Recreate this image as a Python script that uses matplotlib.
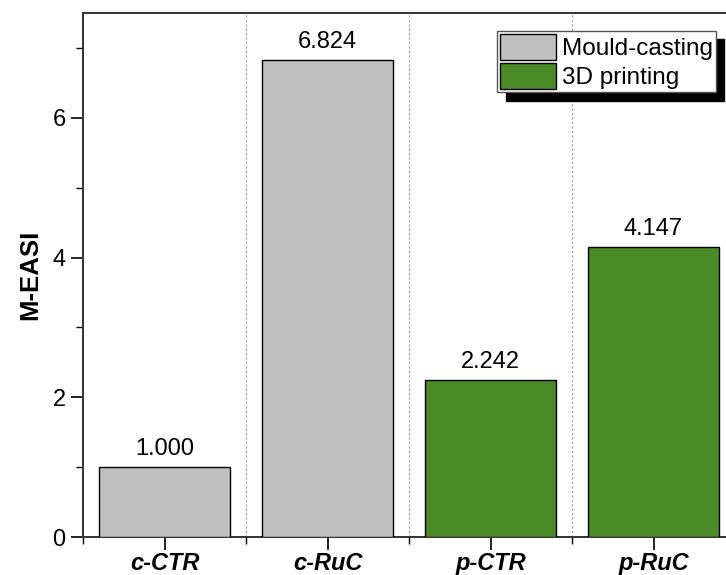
import matplotlib
matplotlib.use("Agg")
import matplotlib.pyplot as plt
from matplotlib.ticker import MultipleLocator, FixedLocator

plt.rcParams['font.family'] = ['Liberation Sans', 'DejaVu Sans']

categories = ['c-CTR', 'c-RuC', 'p-CTR', 'p-RuC']
values = [1.000, 6.824, 2.242, 4.147]
groups = ['Mould-casting', 'Mould-casting', '3D printing', '3D printing']
group_colors = {'Mould-casting': '#C0C0C0', '3D printing': '#4A8A27'}

fig = plt.figure(figsize=(7.26, 5.75), dpi=100)
ax = fig.add_axes([83/726, 1-537/575, 652/726, (537-13)/575])

x = list(range(len(categories)))
handles = {}
for xi, v, g in zip(x, values, groups):
    b = ax.bar(xi, v, width=0.8, color=group_colors[g], edgecolor='black', linewidth=1.0, zorder=3, label=g)
    if g not in handles:
        handles[g] = b
    ax.text(xi, v + 0.1, f"{v:.3f}", ha='center', va='bottom', fontsize=17, zorder=4)

ax.set_xlim(-0.5, 3.5)
ax.set_ylim(0, 7.5)
ax.set_xticks(x)
ax.set_xticklabels(categories, fontsize=15.5, fontweight='bold', fontstyle='italic')
ax.xaxis.set_minor_locator(FixedLocator([-0.5, 0.5, 1.5, 2.5, 3.5]))
ax.yaxis.set_major_locator(MultipleLocator(2))
ax.yaxis.set_minor_locator(MultipleLocator(1))
ax.tick_params(axis='both', which='major', direction='out', length=9, width=1.2, labelsize=17)
ax.tick_params(axis='both', which='minor', direction='out', length=5, width=1.0)
ax.tick_params(axis='x', which='major', pad=1.5)
ax.grid(which='minor', axis='x', linestyle=(0, (2, 2)), color='#999999', linewidth=0.8, zorder=0)
for s in ax.spines.values():
    s.set_linewidth(1.4)
    s.set_color('#333333')
ax.set_ylabel('M-EASI', fontsize=18.5, fontweight='bold', labelpad=7)

leg = ax.legend([handles['Mould-casting'], handles['3D printing']], ['Mould-casting', '3D printing'],
                loc='upper right', bbox_to_anchor=(716/726, 1-31/575), bbox_transform=fig.transFigure,
                fontsize=17.5, frameon=True, fancybox=False, edgecolor='#555555',
                shadow={'color': 'black', 'alpha': 1.0, 'ox': 6, 'oy': -6},
                handlelength=2.3, handleheight=1.3, labelspacing=0.1, handletextpad=0.25,
                borderpad=0.12, borderaxespad=0)
leg.get_frame().set_linewidth(1.0)
leg.set_zorder(10)

fig.savefig('out.png', dpi=100)
